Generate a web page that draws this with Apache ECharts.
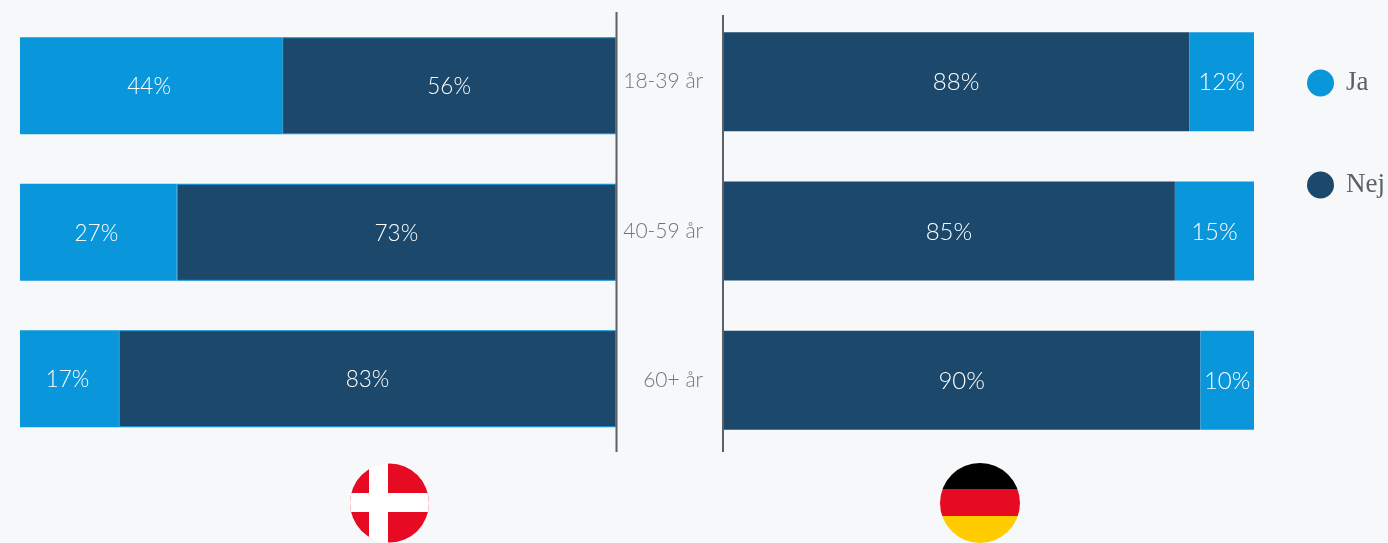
<!DOCTYPE html>
<html><head><meta charset="utf-8">
<style>html,body{margin:0;padding:0;background:#f7f8fa}#c{width:1388px;height:543px}</style>
<script src="https://cdn.jsdelivr.net/npm/echarts@6/dist/echarts.min.js"></script>
</head><body><div id="c"></div>
<script>
const ageGroups = ['18-39 år', '40-59 år', '60+ år'];
const denmarkJa = [44, 26.3, 16.6];
const denmarkNej = [56, 73.7, 83.4];
const denmarkJaLabels = ['44%', '27%', '17%'];
const denmarkNejLabels = ['56%', '73%', '83%'];
const germanyNej = [87.8, 85.1, 89.9];
const germanyJa = [12.2, 14.9, 10.1];
const germanyNejLabels = ['88%', '85%', '90%'];
const germanyJaLabels = ['12%', '15%', '10%'];
const BLUE = '#0a96da', NAVY = '#1b486b', AXIS = '#5b6168', FONT = 'Lato, "Noto Sans", sans-serif';
const chart = echarts.init(document.getElementById('c'));
const lab = (texts, size, offset) => ({show:true, position:'inside', color:'#fff', fontFamily:FONT, fontSize:size, fontWeight:300,
  offset:offset, formatter:p => texts[p.dataIndex]});
const hard = (x, a, b, c1, c2) => ({type:'linear', x:0, y:0, x2:x?1:0, y2:x?0:1, colorStops:[
  {offset:0,color:c1},{offset:a,color:c1},{offset:a,color:c2},{offset:b,color:c2},{offset:b,color:c1},{offset:1,color:c1}]});
chart.setOption({
  animation:false,
  backgroundColor:'#f7f8fa',
  legend:{orient:'vertical', left:1307, top:69.5, padding:0, itemWidth:27, itemHeight:27, itemGap:75, icon:'circle',
    itemStyle:{borderWidth:0},
    data:['Ja','Nej'], textStyle:{color:'#5b6168', fontFamily:'"Liberation Serif", serif', fontSize:27, padding:[0,0,0,7]}, selectedMode:false},
  grid:[
    {left:20, width:596, top:12.5, height:439.5},
    {left:723, width:531, top:7, height:447.75}
  ],
  xAxis:[
    {gridIndex:0, type:'value', min:0, max:100, show:false},
    {gridIndex:1, type:'value', min:0, max:100, show:false}
  ],
  yAxis:[
    {gridIndex:0, type:'category', inverse:true, data:ageGroups, axisLine:{show:false}, axisTick:{show:false}, axisLabel:{show:false}},
    {gridIndex:1, type:'category', inverse:true, data:ageGroups, axisLine:{show:false}, axisTick:{show:false},
      axisLabel:{margin:20, color:'#6f747a', fontFamily:FONT, fontSize:21, fontWeight:300}}
  ],
  series:[
    {name:'Ja', type:'bar', stack:'dk', xAxisIndex:0, yAxisIndex:0, barWidth:97, data:denmarkJa, itemStyle:{color:BLUE}, label:lab(denmarkJaLabels,22.5,[-2,1])},
    {name:'Nej', type:'bar', stack:'dk', xAxisIndex:0, yAxisIndex:0, barWidth:97, data:denmarkNej, itemStyle:{color:NAVY, borderColor:BLUE, borderWidth:1}, label:lab(denmarkNejLabels,22.5,[0,1])},
    {name:'Nej', type:'bar', stack:'de', xAxisIndex:1, yAxisIndex:1, barWidth:99, data:germanyNej, itemStyle:{color:NAVY}, label:lab(germanyNejLabels,24,[0,1])},
    {name:'Ja', type:'bar', stack:'de', xAxisIndex:1, yAxisIndex:1, barWidth:99, data:germanyJa, itemStyle:{color:BLUE}, label:lab(germanyJaLabels,24,[0,1])}
  ],
  graphic:[
    {type:'line', z:10, shape:{x1:616.5,y1:12,x2:616.5,y2:452}, style:{stroke:AXIS,lineWidth:2}},
    {type:'line', z:10, shape:{x1:723,y1:15,x2:723,y2:452}, style:{stroke:AXIS,lineWidth:2}},
    {type:'circle', shape:{cx:389.5,cy:503,r:39.5}, style:{fill:hard(true,(369-350)/79,(388-350)/79,'#e60a23','#ffffff')}},
    {type:'circle', shape:{cx:389.5,cy:503,r:39.5}, style:{fill:hard(false,(493-463.5)/79,(512-463.5)/79,'rgba(255,255,255,0)','#ffffff')}},
    {type:'circle', shape:{cx:980,cy:503,r:40}, style:{fill:{type:'linear',x:0,y:0,x2:0,y2:1,colorStops:[
      {offset:0,color:'#000'},{offset:26.5/80,color:'#000'},{offset:26.5/80,color:'#e60a23'},
      {offset:53.5/80,color:'#e60a23'},{offset:53.5/80,color:'#ffcc00'},{offset:1,color:'#ffcc00'}]}}}
  ]
});
</script></body></html>
